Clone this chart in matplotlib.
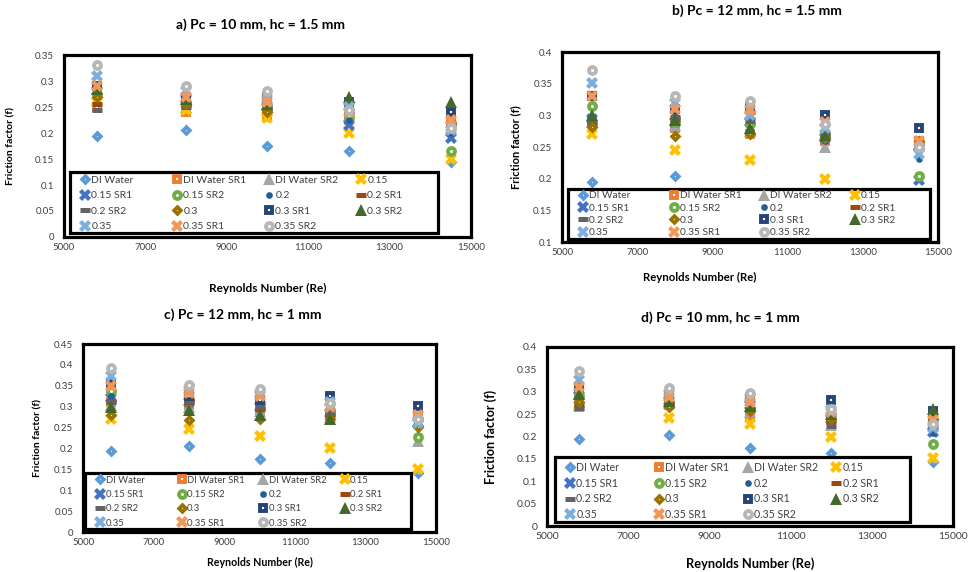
import matplotlib.pyplot as plt
from matplotlib.patches import Rectangle
from matplotlib.ticker import FuncFormatter

plt.rcParams['font.family'] = ['Lato', 'DejaVu Sans']

# Reynolds numbers (same for all panels)
re_num = [5800, 8000, 10000, 12000, 14500]

series_names = ['DI Water', 'DI Water SR1', 'DI Water SR2', '0.15', '0.15 SR1',
                '0.15 SR2', '0.2', '0.2 SR1', '0.2 SR2', '0.3', '0.3 SR1',
                '0.3 SR2', '0.35', '0.35 SR1', '0.35 SR2']

# a) Pc = 10 mm, hc = 1.5 mm
f_a = [
    [0.195, 0.205, 0.175, 0.165, 0.145],
    [0.250, 0.240, 0.230, 0.225, 0.225],
    [0.265, 0.250, 0.245, 0.235, 0.215],
    [0.260, 0.245, 0.228, 0.200, 0.150],
    [0.280, 0.265, 0.250, 0.215, 0.190],
    [0.275, 0.255, 0.245, 0.230, 0.165],
    [0.270, 0.260, 0.245, 0.225, 0.200],
    [0.255, 0.255, 0.250, 0.240, 0.220],
    [0.245, 0.250, 0.248, 0.240, 0.215],
    [0.270, 0.255, 0.240, 0.260, 0.220],
    [0.290, 0.270, 0.270, 0.260, 0.240],
    [0.285, 0.265, 0.255, 0.270, 0.260],
    [0.310, 0.280, 0.265, 0.250, 0.205],
    [0.290, 0.270, 0.260, 0.240, 0.225],
    [0.330, 0.290, 0.280, 0.245, 0.210],
]

# b) Pc = 12 mm, hc = 1.5 mm
f_b = [
    [0.195, 0.205, 0.175, 0.165, 0.145],
    [0.290, 0.280, 0.270, 0.260, 0.260],
    [0.290, 0.285, 0.275, 0.250, 0.255],
    [0.270, 0.245, 0.230, 0.200, 0.150],
    [0.295, 0.290, 0.290, 0.265, 0.198],
    [0.315, 0.290, 0.287, 0.270, 0.205],
    [0.290, 0.300, 0.300, 0.260, 0.231],
    [0.285, 0.295, 0.305, 0.265, 0.255],
    [0.290, 0.298, 0.291, 0.270, 0.255],
    [0.281, 0.268, 0.271, 0.265, 0.260],
    [0.331, 0.310, 0.314, 0.301, 0.280],
    [0.300, 0.292, 0.280, 0.269, 0.255],
    [0.351, 0.320, 0.300, 0.280, 0.239],
    [0.330, 0.310, 0.308, 0.290, 0.260],
    [0.371, 0.331, 0.322, 0.287, 0.250],
]

# c) Pc = 12 mm, hc = 1 mm
f_c = [
    [0.195, 0.205, 0.175, 0.165, 0.142],
    [0.310, 0.305, 0.291, 0.280, 0.275],
    [0.305, 0.300, 0.290, 0.275, 0.217],
    [0.270, 0.247, 0.231, 0.200, 0.151],
    [0.320, 0.310, 0.300, 0.285, 0.260],
    [0.337, 0.315, 0.309, 0.293, 0.227],
    [0.325, 0.320, 0.305, 0.290, 0.265],
    [0.313, 0.310, 0.295, 0.280, 0.270],
    [0.310, 0.313, 0.300, 0.285, 0.270],
    [0.281, 0.268, 0.271, 0.270, 0.251],
    [0.354, 0.325, 0.317, 0.325, 0.301],
    [0.300, 0.291, 0.281, 0.271, 0.265],
    [0.374, 0.340, 0.330, 0.310, 0.260],
    [0.350, 0.333, 0.325, 0.300, 0.279],
    [0.392, 0.352, 0.342, 0.308, 0.271],
]

# d) Pc = 10 mm, hc = 1 mm
f_d = [
    [0.194, 0.203, 0.175, 0.164, 0.143],
    [0.265, 0.270, 0.245, 0.236, 0.236],
    [0.270, 0.275, 0.255, 0.225, 0.230],
    [0.270, 0.242, 0.229, 0.198, 0.152],
    [0.290, 0.280, 0.270, 0.240, 0.210],
    [0.290, 0.275, 0.262, 0.247, 0.183],
    [0.285, 0.280, 0.265, 0.235, 0.207],
    [0.270, 0.275, 0.260, 0.235, 0.225],
    [0.263, 0.270, 0.262, 0.223, 0.235],
    [0.277, 0.266, 0.258, 0.240, 0.240],
    [0.310, 0.290, 0.288, 0.281, 0.258],
    [0.296, 0.280, 0.268, 0.250, 0.261],
    [0.326, 0.295, 0.285, 0.260, 0.220],
    [0.310, 0.288, 0.277, 0.255, 0.236],
    [0.347, 0.308, 0.298, 0.262, 0.228],
]

# marker, colour, kind ('hollow' = white centre, 'solid', 'dash', 'dot')
styles = [
    ('D', '#5B9BD5', 'hollow'),
    ('s', '#ED7D31', 'hollow'),
    ('^', '#A5A5A5', 'solid'),
    ('X', '#FFC000', 'solid'),
    ('X', '#4472C4', 'solid'),
    ('o', '#70AD47', 'hollow'),
    ('o', '#255E91', 'dot'),
    ('_', '#9E480E', 'dash'),
    ('_', '#636363', 'dash'),
    ('D', '#997300', 'hollow'),
    ('s', '#264478', 'hollow'),
    ('^', '#43682B', 'solid'),
    ('X', '#7CAFDD', 'solid'),
    ('X', '#F1975A', 'solid'),
    ('o', '#B7B7B7', 'hollow'),
]

W, H = 969, 572
TXT = '#404040'


def marker_kw(marker, color, kind):
    if kind == 'hollow':
        if marker == 'D':
            return dict(marker=marker, ms=3.4, mew=2.7, mfc='white', mec=color)
        if marker == 's':
            return dict(marker=marker, ms=4.3, mew=2.8, mfc='white', mec=color)
        return dict(marker=marker, ms=5.0, mew=2.8, mfc='white', mec=color)
    if kind == 'dot':
        return dict(marker=marker, ms=4.8, mew=0, mfc=color, mec=color)
    if kind == 'dash':
        return dict(marker=marker, ms=7, mew=3.6, mec=color)
    if marker == '^':
        return dict(marker=marker, ms=8, mew=0, mfc=color, mec=color)
    return dict(marker=marker, ms=8, mew=0, mfc=color, mec=color)


def draw(ax, data, ylim, yticks, box, fs, legfs, rowsp, first_row):
    handles = []
    for vals, (m, c, k) in zip(data, styles):
        h, = ax.plot(re_num, vals, ls='none', **marker_kw(m, c, k))
        handles.append(h)
    ax.set_xlim(5000, 15000)
    ax.set_xticks(range(5000, 15001, 2000))
    ax.set_ylim(*ylim)
    ax.set_yticks(yticks)
    ax.yaxis.set_major_formatter(FuncFormatter(lambda v, _: f'{v:g}'))
    ax.tick_params(length=0, labelsize=fs, colors=TXT)
    ax.tick_params(axis='y', pad=7)
    ax.tick_params(axis='x', pad=4)
    for sp in ax.spines.values():
        sp.set_linewidth(2.3)
        sp.set_color('black')

    # legend frame (box given in figure pixels: left, top, right, bottom)
    x0, y0, x1, y1 = box
    ax.add_patch(Rectangle((x0 / W, 1 - y1 / H), (x1 - x0) / W, (y1 - y0) / H,
                           transform=ax.figure.transFigure, fc='white', ec='black',
                           lw=2.3, zorder=4, clip_on=False))
    # four equal-width legend columns, filled row by row like the original
    fs_px = legfs * 100 / 72
    hl = 0.9
    colw = (x1 - x0) / 4
    top = y0 + first_row - 0.45 * fs_px
    for i in range(4):
        idx = [j for j in range(i, 15, 4)]
        lx = x0 + i * colw + 15 - hl * fs_px / 2
        leg = ax.legend([handles[j] for j in idx], [series_names[j] for j in idx],
                        loc='upper left', bbox_to_anchor=(lx / W, 1 - top / H),
                        bbox_transform=ax.figure.transFigure, frameon=False,
                        fontsize=legfs, handlelength=hl, handletextpad=0.15,
                        labelspacing=rowsp, borderpad=0, borderaxespad=0)
        for t in leg.get_texts():
            t.set_color(TXT)
        leg.set_zorder(5)
        if i < 3:
            ax.add_artist(leg)


fig = plt.figure(figsize=(W / 100, H / 100), dpi=100)

ax_a = fig.add_axes([0.0660, 0.5857, 0.420, 0.318])
draw(ax_a, f_a, (0, 0.35), [i * 0.05 for i in range(8)],
     (70, 172, 438, 233), 7, 7.5, 0.6, 8)
ax_a.set_ylabel('Friction factor (f)', fontsize=7.5, fontweight='bold')
ax_a.yaxis.set_label_coords(-0.12, 0.5)
ax_a.set_xlabel('Reynolds Number (Re)', fontsize=8.5, fontweight='bold')
ax_a.xaxis.set_label_coords(0.50, -0.253)

ax_b = fig.add_axes([0.580, 0.5769, 0.388, 0.332])
draw(ax_b, f_b, (0.1, 0.4), [0.1 + i * 0.05 for i in range(7)],
     (568, 189, 930, 239), 7, 7.3, 0.32, 6.7)
ax_b.set_ylabel('Friction factor (f)', fontsize=8, fontweight='bold')
ax_b.yaxis.set_label_coords(-0.109, 0.5)
ax_b.set_xlabel('Reynolds Number (Re)', fontsize=8.2, fontweight='bold')
ax_b.xaxis.set_label_coords(0.367, -0.158)

ax_c = fig.add_axes([0.0857, 0.0699, 0.3643, 0.3287])
draw(ax_c, f_c, (0, 0.45), [i * 0.05 for i in range(10)],
     (85, 473, 411, 529), 7, 6.8, 0.56, 7)
ax_c.set_ylabel('Friction factor (f)', fontsize=7.5, fontweight='bold')
ax_c.yaxis.set_label_coords(-0.116, 0.5)
ax_c.set_xlabel('Reynolds Number (Re)', fontsize=7.7, fontweight='bold')
ax_c.xaxis.set_label_coords(0.50, -0.133)

ax_d = fig.add_axes([0.5645, 0.0804, 0.419, 0.313])
draw(ax_d, f_d, (0, 0.4), [i * 0.05 for i in range(9)],
     (555, 457, 910, 522), 7.5, 7.6, 0.44, 9.7)
ax_d.set_ylabel('Friction factor (f)', fontsize=9, fontweight='bold')
ax_d.yaxis.set_label_coords(-0.123, 0.5)
ax_d.set_xlabel('Reynolds Number (Re)', fontsize=9.3, fontweight='bold')
ax_d.xaxis.set_label_coords(0.50, -0.175)

fig.text(260 / W, 1 - 25 / H, 'a) Pc = 10 mm, hc = 1.5 mm', ha='center', va='center',
         fontsize=10, fontweight='bold')
fig.text(757 / W, 1 - 11 / H, 'b) Pc = 12 mm, hc = 1.5 mm', ha='center', va='center',
         fontsize=10, fontweight='bold')
fig.text(243 / W, 1 - 315 / H, 'c) Pc = 12 mm, hc = 1 mm', ha='center', va='center',
         fontsize=10, fontweight='bold')
fig.text(720 / W, 1 - 318 / H, 'd) Pc = 10 mm, hc = 1 mm', ha='center', va='center',
         fontsize=10, fontweight='bold')

fig.savefig('out.png', dpi=100)
